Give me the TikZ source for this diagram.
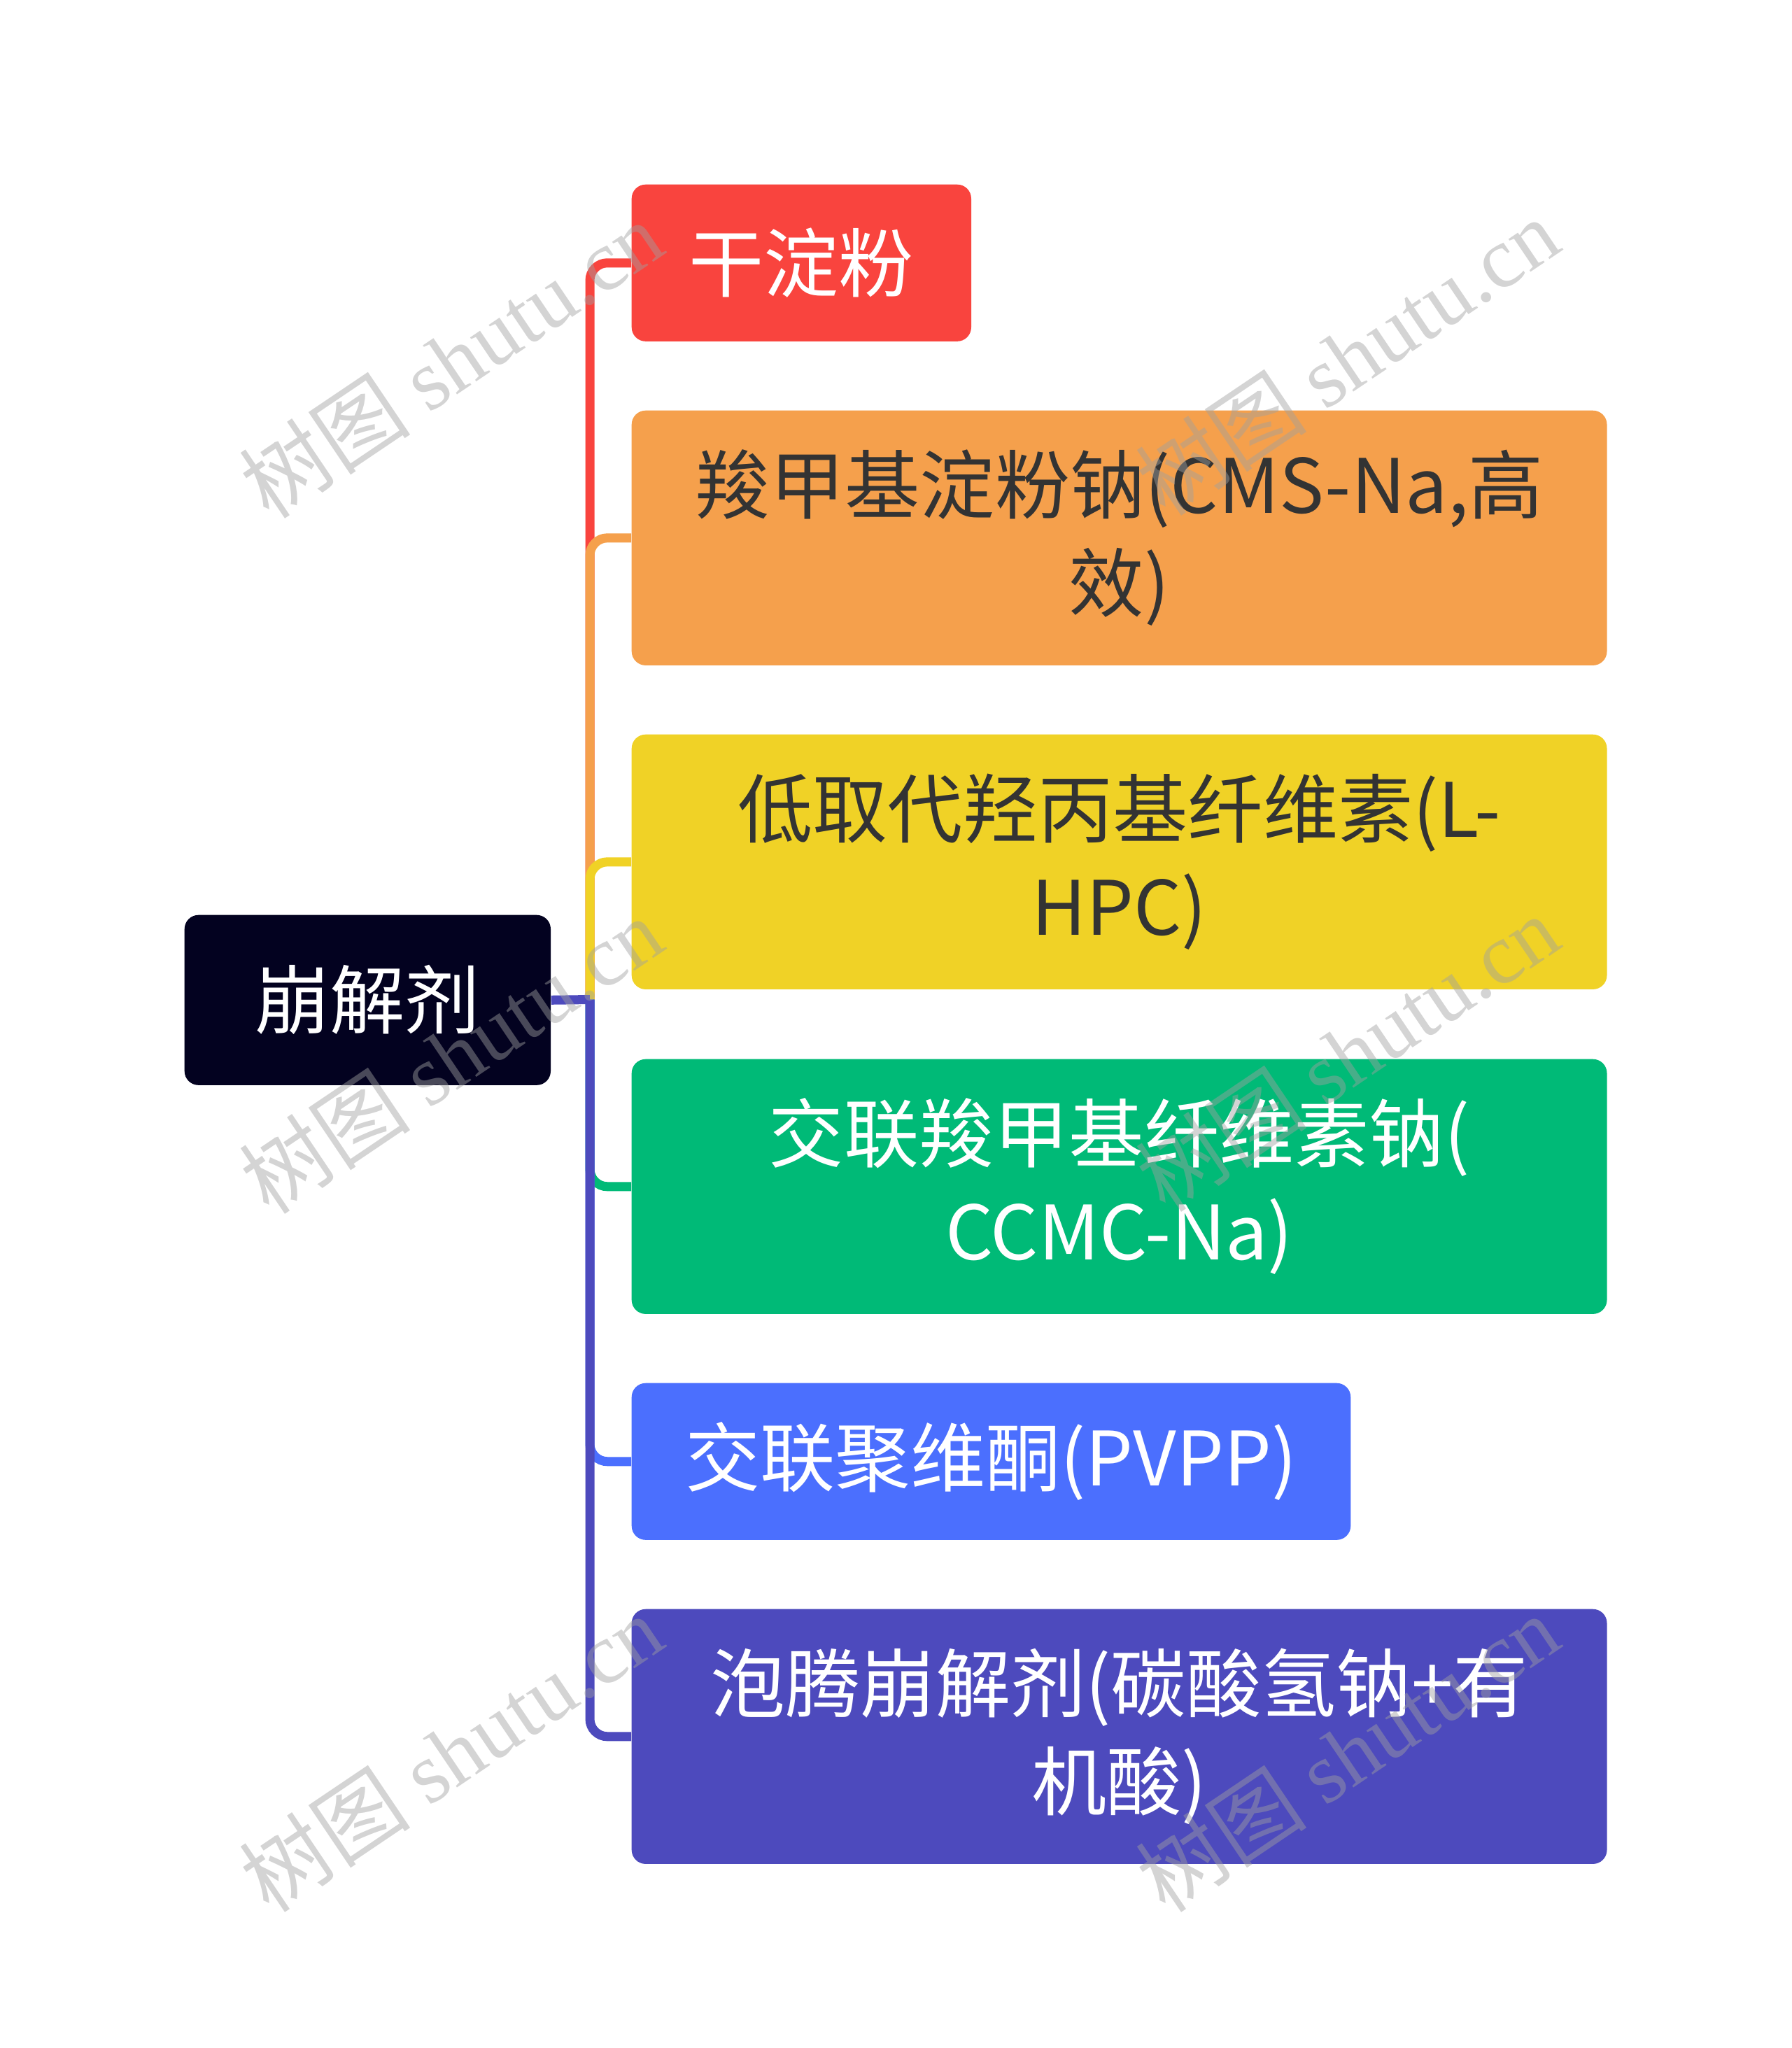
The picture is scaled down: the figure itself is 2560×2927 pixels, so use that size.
\documentclass[tikz,border=0pt]{standalone}
\usepackage{fontspec}
\setmainfont{Noto Sans CJK SC}
\newfontfamily\wmlatin{Liberation Serif}
\definecolor{cRoot}{HTML}{030220}
\definecolor{cRed}{HTML}{F9443E}
\definecolor{cOrange}{HTML}{F5A04C}
\definecolor{cYellow}{HTML}{F0D226}
\definecolor{cGreen}{HTML}{00BA77}
\definecolor{cBlue}{HTML}{4B6FFE}
\definecolor{cPurple}{HTML}{4D4ABD}
\definecolor{cDark}{HTML}{333333}
\definecolor{cWm}{HTML}{A0A0A0}
\tikzset{
  box/.style={rectangle, rounded corners=0.2cm, inner sep=0pt, align=center,
    anchor=north west, font=\fontsize{30.5}{39.8}\selectfont},
  wide/.style={minimum width=13.93cm, minimum height=3.64cm},
  conn/.style={line width=0.13cm},
  branchline/.style={conn, rounded corners=0.25cm},
  wmark/.style={text=cWm, text opacity=0.45, font=\fontsize{35}{40}\selectfont, inner sep=0pt, rotate=34},
}
\begin{document}
\begin{tikzpicture}[x=0.01cm, y=-0.01cm]
\fill[white] (0,0) rectangle (2560,2927);
\useasboundingbox (0,0) rectangle (2560,2927);

\node[box, fill=cRoot, text=white, minimum width=5.23cm, minimum height=2.43cm] (root) at (263,1307) {崩解剂};

\node[box, fill=cRed, text=white, minimum width=4.85cm, minimum height=2.24cm] (n1) at (902,263) {干淀粉};
\node[box, wide, fill=cOrange, text=cDark] (n2) at (902,586) {羧甲基淀粉钠(CMS-Na,高\\效)};
\node[box, wide, fill=cYellow, text=cDark] (n3) at (902,1049) {低取代羟丙基纤维素(L-\\HPC)};
\node[box, wide, fill=cGreen, text=white] (n4) at (902,1513) {交联羧甲基纤维素钠(\\CCMC-Na)};
\node[box, fill=cBlue, text=white, minimum width=10.27cm, minimum height=2.24cm] (n5) at (902,1976) {交联聚维酮(PVPP)};
\node[box, wide, fill=cPurple, text=white] (n6) at (902,2299) {泡腾崩解剂(碳酸氢钠+有\\机酸)};

\coordinate (jx) at (843,1428.5);

\draw[branchline, cRed] (jx) -- (jx |- n1.west) -- (n1.west);
\draw[branchline, cOrange] (jx) -- (jx |- n2.west) -- (n2.west);
\draw[branchline, cYellow] (jx) -- (jx |- n3.west) -- (n3.west);
\draw[branchline, cGreen] (jx) -- (jx |- n4.west) -- (n4.west);
\draw[branchline, cBlue] (jx) -- (jx |- n5.west) -- (n5.west);
\draw[branchline, cPurple] (jx) -- (jx |- n6.west) -- (n6.west);
\draw[conn, cPurple] (root.east) -- (jx);

\node[wmark] (w1) at (644,514) {树图 {\wmlatin shutu.cn}};
\node[wmark] (w2) at (644,1508) {树图 {\wmlatin shutu.cn}};
\node[wmark] (w3) at (644,2505) {树图 {\wmlatin shutu.cn}};
\node[wmark] (w4) at (1925,510) {树图 {\wmlatin shutu.cn}};
\node[wmark] (w5) at (1925,1505) {树图 {\wmlatin shutu.cn}};
\node[wmark] (w6) at (1925,2505) {树图 {\wmlatin shutu.cn}};
\end{tikzpicture}
\end{document}
